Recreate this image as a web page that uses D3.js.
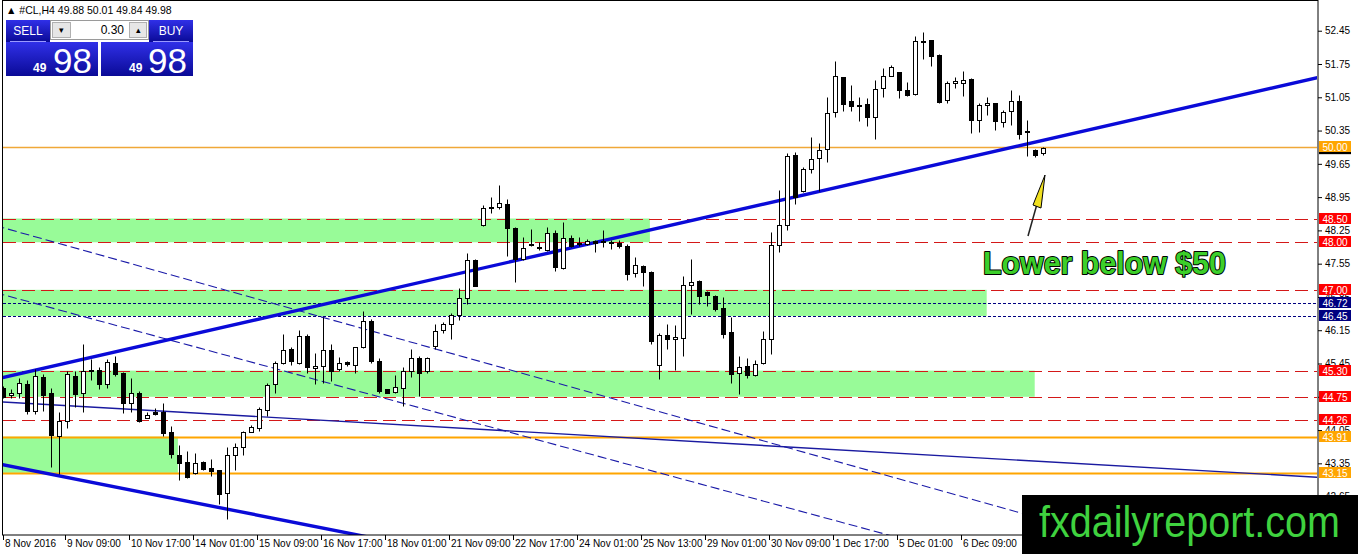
<html>
<head>
<meta charset="utf-8">
<script src="https://d3js.org/d3.v7.min.js"></script>
<style type="text/css">
  body { margin: 0; background: #fff; }
  svg text { font-family: "Liberation Sans", Arial, sans-serif; }
</style>
</head>
<body>
<svg id="chart" width="1358" height="554"></svg>

<script>
// --- data (H4 bars of #CL) ---
var opens = [44.94,44.78,44.84,45.01,44.46,45.17,44.82,43.92,44.24,45.19,44.82,45.29,45.31,45.01,45.46,45.25,44.61,44.84,44.31,44.43,
  44.42,44.01,43.52,43.37,43.15,43.37,43.25,43.20,42.73,43.52,43.70,44.01,44.10,44.47,45.01,45.46,45.75,45.47,46.03,45.35,
  45.39,45.73,45.33,45.48,45.42,45.79,46.35,45.51,44.91,44.85,44.94,45.30,45.56,45.30,45.82,46.15,46.28,46.46,46.83,47.63,
  48.37,48.75,48.74,48.81,48.31,47.65,47.94,47.88,47.84,48.20,47.45,48.09,47.98,47.97,48.03,48.02,48.00,47.98,47.93,47.36,
  47.51,47.37,45.42,46.05,45.96,45.98,47.10,47.19,46.95,46.88,46.62,46.12,45.25,45.39,45.21,45.46,45.96,47.95,48.37,49.83,
  49.07,49.54,49.78,49.97,50.73,51.47,50.97,50.89,50.91,50.64,51.24,51.50,51.59,51.20,51.11,52.24,52.26,51.94,51.00,51.34,
  51.36,51.43,50.57,50.88,50.92,50.52,50.76,50.97,50.31,49.94,49.88];
var highs = [44.98,44.91,45.14,45.10,45.33,45.22,44.94,44.42,45.30,45.30,45.85,45.54,45.37,45.54,45.61,45.28,45.15,44.87,44.42,44.52,
  44.61,44.13,43.74,43.61,43.56,43.40,43.45,43.22,43.70,43.78,44.04,44.15,44.54,45.05,45.51,46.07,45.80,46.15,46.07,45.68,
  46.42,45.86,45.58,45.51,45.80,46.56,46.39,45.56,44.92,45.20,45.37,45.75,45.61,45.58,46.28,46.33,46.51,47.03,47.78,47.65,
  48.79,48.95,49.20,48.92,48.32,48.11,48.28,48.00,48.33,48.25,48.42,48.16,48.11,48.07,48.05,48.25,48.05,48.04,47.97,47.69,
  47.52,47.39,46.10,46.28,46.25,47.30,47.64,47.21,46.97,46.90,46.84,46.42,45.61,45.56,45.52,46.14,48.21,49.11,49.88,49.90,
  49.58,50.22,50.09,51.06,51.82,51.48,51.31,51.06,51.03,51.41,51.67,51.72,51.59,51.38,52.33,52.43,52.26,51.95,51.39,51.48,
  51.60,51.45,50.94,51.06,50.94,50.78,51.20,51.10,50.58,49.96,50.01];
var lows = [44.72,44.73,44.73,44.38,44.39,44.45,43.27,43.13,44.10,44.54,44.44,45.10,44.91,44.94,45.19,44.40,44.42,44.23,44.30,44.37,
  43.92,43.47,43.00,43.04,43.13,43.22,43.08,42.50,42.17,43.22,43.52,44.00,44.04,44.35,44.82,45.44,45.42,45.45,45.24,45.02,
  45.05,45.08,45.30,45.40,45.26,45.77,45.47,44.84,44.82,44.82,44.56,45.16,44.77,45.26,45.75,46.10,45.96,46.37,46.70,47.07,
  48.34,48.62,48.69,47.71,47.16,47.62,47.92,47.83,47.81,47.39,47.44,47.90,47.93,47.95,47.79,47.90,47.86,47.88,47.21,47.26,
  47.09,45.86,45.12,45.75,45.31,45.61,46.49,46.70,46.67,46.55,45.98,45.03,44.80,45.14,45.19,45.45,45.65,47.79,48.25,48.81,
  49.06,49.45,49.08,49.69,50.64,50.76,50.76,50.55,50.45,50.18,51.06,51.50,51.04,51.08,51.10,51.85,51.70,50.94,50.94,51.24,
  51.08,50.29,50.31,50.68,50.36,50.43,50.46,50.18,49.81,49.80,49.84];
var closes = [44.75,44.84,45.03,44.45,45.19,44.79,43.94,44.24,45.22,44.80,45.30,45.31,45.01,45.48,45.23,44.61,44.84,44.24,44.37,44.38,
  43.99,43.54,43.36,43.06,43.35,43.23,43.19,42.71,43.52,43.70,44.01,44.11,44.49,45.00,45.46,45.73,45.51,46.03,45.37,45.39,
  45.73,45.30,45.47,45.44,45.79,46.34,45.51,44.87,44.84,44.96,45.30,45.56,45.26,45.56,46.14,46.28,46.46,46.83,47.63,47.07,
  48.73,48.73,48.83,48.30,47.65,47.88,47.96,47.91,48.20,47.47,48.09,47.93,47.99,48.02,47.99,48.02,47.99,47.93,47.33,47.52,
  47.38,45.93,46.05,45.96,46.01,47.10,47.17,46.86,46.89,46.60,46.08,45.22,45.37,45.21,45.44,45.96,47.95,48.37,49.81,48.95,
  49.55,49.76,49.95,50.71,51.50,50.90,50.87,50.88,50.63,51.22,51.50,51.69,51.20,51.10,52.24,52.23,51.91,50.96,51.34,51.39,
  51.41,50.57,50.89,50.92,50.56,50.75,50.98,50.28,50.35,49.83,49.98];

var timeTickIdx = [0,8,16,24,32,40,48,56,64,72,80,88,96,104,112,120];
var timeTickLabels = ["8 Nov 2016","9 Nov 09:00","10 Nov 17:00","14 Nov 01:00","15 Nov 09:00","16 Nov 17:00",
  "18 Nov 01:00","21 Nov 09:00","22 Nov 17:00","24 Nov 01:00","25 Nov 13:00","29 Nov 01:00",
  "30 Nov 09:00","1 Dec 17:00","5 Dec 01:00","6 Dec 09:00"];
var priceTicks = [52.45,51.75,51.05,50.35,49.65,48.95,48.25,47.55,46.85,46.15,45.45,44.75,44.05,43.35,42.65];

// horizontal levels and their style kind
var levelPrices = [50.00,48.50,48.00,47.00,46.72,46.45,45.30,44.75,44.26,43.91,43.15];
var levelKinds  = ["orange","red","red","red","navy","navy","red","red","red","orangeBold","orangeBold"];

// green zones: price low/high and bar index where they end
var zoneLow  = [48.00,46.45,44.75,43.15];
var zoneHigh = [48.50,47.00,45.30,43.91];
var zoneEnd  = [80.8,122.9,128.9,21.8];

// trend lines as [bar index, price] end points
var mainTrend    = [[-1,45.12],[165,51.49]];
var lowerChannel = [[-1,43.35],[60,41.32]];
var thinTrend    = [[-1,44.65],[165,43.05]];
var dashTrend1   = [[-1,48.35],[140,41.70]];
var dashTrend2   = [[-1,46.94],[140,40.50]];

var bidPrice = 49.98;

// --- drawing ---
var svg = d3.select("#chart");
var L = 3, R = 1317, T = 2, B = 535;

var x = d3.scaleLinear().domain([0, 1]).range([3.5, 11.5]);
var y = d3.scaleLinear().domain([50, 52.45]).range([147.2, 147.2 - 2.45 * 47.54]);

var defs = svg.append("defs");
defs.append("clipPath").attr("id", "plotclip")
  .append("rect").attr("x", L).attr("y", T).attr("width", R - L).attr("height", B - T);
var grad = defs.append("linearGradient").attr("id", "panelblue").attr("x1", 0).attr("y1", 0).attr("x2", 0).attr("y2", 1);
grad.append("stop").attr("offset", "0%").attr("stop-color", "#3030e8");
grad.append("stop").attr("offset", "100%").attr("stop-color", "#0a0a96");

var plot = svg.append("g").attr("clip-path", "url(#plotclip)");

// zones
plot.selectAll(".zone")
  .data(zoneLow)
  .enter()
  .append("rect")
    .attr("class", "zone")
    .attr("x", L)
    .attr("y", function(d, i) { return y(zoneHigh[i]); })
    .attr("width", function(d, i) { return x(zoneEnd[i]) - L; })
    .attr("height", function(d, i) { return y(zoneLow[i]) - y(zoneHigh[i]); })
    .style("fill", "#98fb98");

// horizontal levels
var levelStyle = {
  orange:     { stroke: "#f0a838", width: 1.3, dash: null,  box: "#ffa500" },
  orangeBold: { stroke: "#ffa500", width: 2,   dash: null,  box: "#ffa500" },
  red:        { stroke: "#d41818", width: 1,   dash: "13,6", box: "#ff0000" },
  navy:       { stroke: "#000080", width: 1,   dash: "3,2", box: "#000080" }
};
plot.selectAll(".level")
  .data(levelPrices)
  .enter()
  .append("line")
    .attr("class", "level")
    .attr("x1", L).attr("x2", R)
    .attr("y1", function(d) { return Math.round(y(d)) + 0.5; })
    .attr("y2", function(d) { return Math.round(y(d)) + 0.5; })
    .style("stroke", function(d, i) { return levelStyle[levelKinds[i]].stroke; })
    .style("stroke-width", function(d, i) { return levelStyle[levelKinds[i]].width; })
    .style("stroke-dasharray", function(d, i) { return levelStyle[levelKinds[i]].dash; });

// trend lines
var line = d3.line().x(function(d) { return x(d[0]); }).y(function(d) { return y(d[1]); });
plot.append("path").attr("d", line(dashTrend1))
  .style("fill", "none").style("stroke", "#1a1aa8").style("stroke-width", 1.1).style("stroke-dasharray", "9,4");
plot.append("path").attr("d", line(dashTrend2))
  .style("fill", "none").style("stroke", "#1a1aa8").style("stroke-width", 1.1).style("stroke-dasharray", "9,4");
plot.append("path").attr("d", line(thinTrend))
  .style("fill", "none").style("stroke", "#1a1aa0").style("stroke-width", 1.4);
plot.append("path").attr("d", line(mainTrend))
  .style("fill", "none").style("stroke", "#0a0ad8").style("stroke-width", 3.4);
plot.append("path").attr("d", line(lowerChannel))
  .style("fill", "none").style("stroke", "#0a0ad8").style("stroke-width", 3.4);

// candles
var bars = plot.selectAll(".bar")
  .data(closes)
  .enter()
  .append("g")
  .attr("class", "bar");

bars.append("line")
  .attr("x1", function(d, i) { return x(i); })
  .attr("x2", function(d, i) { return x(i); })
  .attr("y1", function(d, i) { return Math.round(y(highs[i])) + 0.5; })
  .attr("y2", function(d, i) { return Math.round(y(lows[i])) + 0.5; })
  .style("stroke", "#000")
  .style("stroke-width", 1);

bars.append("rect")
  .attr("x", function(d, i) { return x(i) - 2; })
  .attr("width", 4)
  .attr("y", function(d, i) { return Math.round(y(Math.max(opens[i], closes[i]))) + 0.5; })
  .attr("height", function(d, i) {
    return Math.max(1, Math.round(y(Math.min(opens[i], closes[i]))) - Math.round(y(Math.max(opens[i], closes[i]))));
  })
  .style("fill", function(d, i) { return closes[i] >= opens[i] ? "#fff" : "#000"; })
  .style("stroke", "#000")
  .style("stroke-width", 1);

// frame
svg.append("rect").attr("x", 2.5).attr("y", 0.5).attr("width", 1315.5).attr("height", B - 0.5)
  .style("fill", "none").style("stroke", "#000").style("stroke-width", 1);

// price axis
var yAxis = d3.axisRight(y).tickValues(priceTicks).tickFormat(d3.format(".2f")).tickSize(4).tickPadding(3);
var yAx = svg.append("g").attr("transform", "translate(1318,0)").call(yAxis);
yAx.select(".domain").remove();
yAx.selectAll("text").style("font-size", "10px").style("fill", "#000")
  .style("font-family", "'Liberation Sans', Arial, sans-serif");

// time axis (labels start at the tick, MT4 style)
var xt = svg.append("g");
xt.selectAll("line")
  .data(timeTickIdx)
  .enter()
  .append("line")
    .attr("x1", function(d) { return Math.max(3, Math.round(x(d) - 3)) + 0.5; })
    .attr("x2", function(d) { return Math.max(3, Math.round(x(d) - 3)) + 0.5; })
    .attr("y1", B).attr("y2", B + 5)
    .style("stroke", "#000");
xt.selectAll("text")
  .data(timeTickIdx)
  .enter()
  .append("text")
    .attr("x", function(d) { return Math.max(3, Math.round(x(d) - 3)) + 2; })
    .attr("y", 547)
    .text(function(d, i) { return timeTickLabels[i]; })
    .style("font-size", "10px");

// level labels on the price scale
var bidY = y(bidPrice);
svg.append("rect").attr("x", 1319).attr("y", bidY - 5).attr("width", 32).attr("height", 11).style("fill", "#000");
var tags = svg.selectAll(".tag")
  .data(levelPrices)
  .enter()
  .append("g")
  .attr("class", "tag")
  .attr("transform", function(d) { return "translate(1319," + Math.round(y(d)) + ")"; });
tags.append("rect")
  .attr("x", 0).attr("y", -6).attr("width", 32).attr("height", 11)
  .style("fill", function(d, i) { return levelStyle[levelKinds[i]].box; });
tags.append("text")
  .attr("x", 16).attr("y", 4)
  .attr("text-anchor", "middle")
  .text(function(d) { return d.toFixed(2); })
  .style("font-size", "10px").style("fill", "#fff");

// header
svg.append("text").attr("x", 6).attr("y", 14)
  .text("\u25B2 #CL,H4  49.88 50.01 49.84 49.98")
  .style("font-size", "10.5px").style("fill", "#000");

// one click trading panel
var tp = svg.append("g");
tp.append("rect").attr("x", 6).attr("y", 20).attr("width", 44).attr("height", 22).style("fill", "url(#panelblue)");
tp.append("rect").attr("x", 149).attr("y", 20).attr("width", 44).attr("height", 22).style("fill", "url(#panelblue)");
tp.append("rect").attr("x", 6).attr("y", 42).attr("width", 92).attr("height", 34).style("fill", "url(#panelblue)");
tp.append("rect").attr("x", 101).attr("y", 42).attr("width", 92).attr("height", 34).style("fill", "url(#panelblue)");
tp.append("line").attr("x1", 10).attr("x2", 46).attr("y1", 41.5).attr("y2", 41.5).style("stroke", "#9a9aff");
tp.append("line").attr("x1", 153).attr("x2", 189).attr("y1", 41.5).attr("y2", 41.5).style("stroke", "#9a9aff");
tp.append("text").attr("x", 28).attr("y", 35).attr("text-anchor", "middle").text("SELL")
  .style("font-size", "12px").style("fill", "#fff");
tp.append("text").attr("x", 171).attr("y", 35).attr("text-anchor", "middle").text("BUY")
  .style("font-size", "12px").style("fill", "#fff");
tp.append("rect").attr("x", 50.5).attr("y", 20.5).attr("width", 98).attr("height", 19)
  .style("fill", "#fff").style("stroke", "#9a9a9a");
tp.append("rect").attr("x", 52.5).attr("y", 22.5).attr("width", 18).attr("height", 15)
  .style("fill", "#e6e6e6").style("stroke", "#b0b0b0");
tp.append("rect").attr("x", 129.5).attr("y", 22.5).attr("width", 17).attr("height", 15)
  .style("fill", "#e6e6e6").style("stroke", "#b0b0b0");
tp.append("text").attr("x", 61.5).attr("y", 33).attr("text-anchor", "middle").text("\u25BE")
  .style("font-size", "9px").style("fill", "#000");
tp.append("text").attr("x", 138).attr("y", 33).attr("text-anchor", "middle").text("\u25B4")
  .style("font-size", "9px").style("fill", "#000");
tp.append("text").attr("x", 124).attr("y", 34).attr("text-anchor", "end").text("0.30")
  .style("font-size", "12px").style("fill", "#000");
[[33, 53], [129, 148]].forEach(function(p) {
  tp.append("text").attr("x", p[0]).attr("y", 72).text("49")
    .style("font-size", "12px").style("font-weight", "bold").style("fill", "#fff");
  tp.append("text").attr("x", p[1]).attr("y", 73).text("98")
    .style("font-size", "35px").style("fill", "#fff");
});

// annotation
svg.append("text").attr("x", 983).attr("y", 274)
  .attr("textLength", 243).attr("lengthAdjust", "spacingAndGlyphs")
  .text("Lower below $50")
  .style("font-size", "31px").style("font-weight", "bold")
  .style("fill", "#3ccf2a").style("stroke", "#000").style("stroke-width", 2)
  .style("paint-order", "stroke").style("stroke-linejoin", "round");

// arrow
svg.append("line").attr("x1", 1028).attr("y1", 236).attr("x2", 1037).attr("y2", 204)
  .style("stroke", "#222").style("stroke-width", 1.5);
svg.append("path").attr("d", "M1045,175 L1041,208 L1033,205 Z")
  .style("fill", "#f0e020").style("stroke", "#000").style("stroke-width", 1);

// watermark
svg.append("rect").attr("x", 1022).attr("y", 495).attr("width", 336).attr("height", 59).style("fill", "#000");
svg.append("text").attr("x", 1039).attr("y", 537)
  .attr("textLength", 301).attr("lengthAdjust", "spacingAndGlyphs")
  .text("fxdailyreport.com")
  .style("font-size", "44px").style("fill", "#3fd23f");
</script>
</body>
</html>
